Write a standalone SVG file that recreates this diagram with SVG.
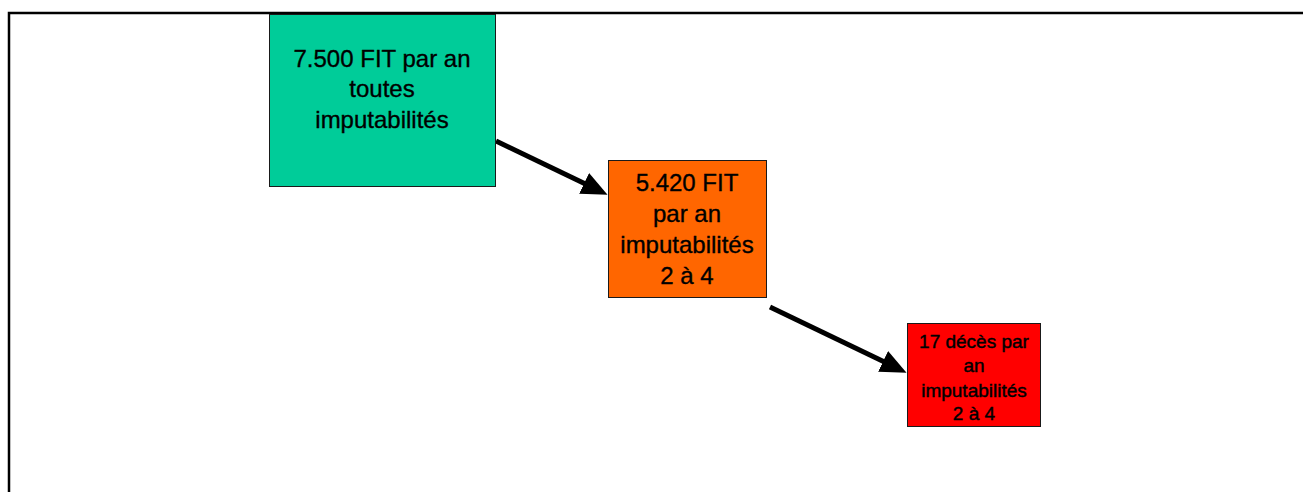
<svg xmlns="http://www.w3.org/2000/svg" width="1303" height="492" viewBox="0 0 1303 492">
  <style>
    .box { stroke: #1a1a1a; stroke-width: 1; }
    .lbl { font-family: "Liberation Sans", Arial, sans-serif; fill: #000; stroke: #000; stroke-width: 0.35; text-anchor: middle; }
    .big { font-size: 24px; }
    .small { font-size: 19px; stroke-width: 0.45; }
    .conn { stroke: #000; stroke-width: 5; fill: none; }
  </style>
  <defs>
    <marker id="head" markerUnits="userSpaceOnUse" markerWidth="26" markerHeight="23" refX="1" refY="11.5" orient="auto">
      <path d="M0,0 L26,11.5 L0,23 z" fill="#000"/>
    </marker>
  </defs>
  <rect width="1303" height="492" fill="#fff"/>
  <!-- frame -->
  <path d="M9,492 V13 H1303" fill="none" stroke="#000" stroke-width="2.5"/>

  <g id="connectors">
    <line class="conn" x1="496" y1="141" x2="585" y2="183.8" marker-end="url(#head)"/>
    <line class="conn" x1="770" y1="307" x2="884" y2="361.8" marker-end="url(#head)"/>
  </g>

  <g id="node-total">
    <rect class="box" x="269.5" y="14.5" width="226" height="172" fill="#00CC99"/>
    <text class="lbl big" x="382" y="67">7.500 FIT par an</text>
    <text class="lbl big" x="382" y="97">toutes</text>
    <text class="lbl big" x="382" y="128">imputabilités</text>
  </g>

  <g id="node-imput">
    <rect class="box" x="608.5" y="160.5" width="158" height="137" fill="#FF6600"/>
    <text class="lbl big" x="687" y="191">5.420 FIT</text>
    <text class="lbl big" x="687" y="222">par an</text>
    <text class="lbl big" x="687" y="253">imputabilités</text>
    <text class="lbl big" x="687" y="284">2 à 4</text>
  </g>

  <g id="node-deces">
    <rect class="box" x="907.5" y="323.5" width="133" height="103" fill="#FF0000"/>
    <text class="lbl small" x="974" y="348">17 décès par</text>
    <text class="lbl small" x="974" y="372">an</text>
    <text class="lbl small" x="974" y="397">imputabilités</text>
    <text class="lbl small" x="974" y="420">2 à 4</text>
  </g>
</svg>
